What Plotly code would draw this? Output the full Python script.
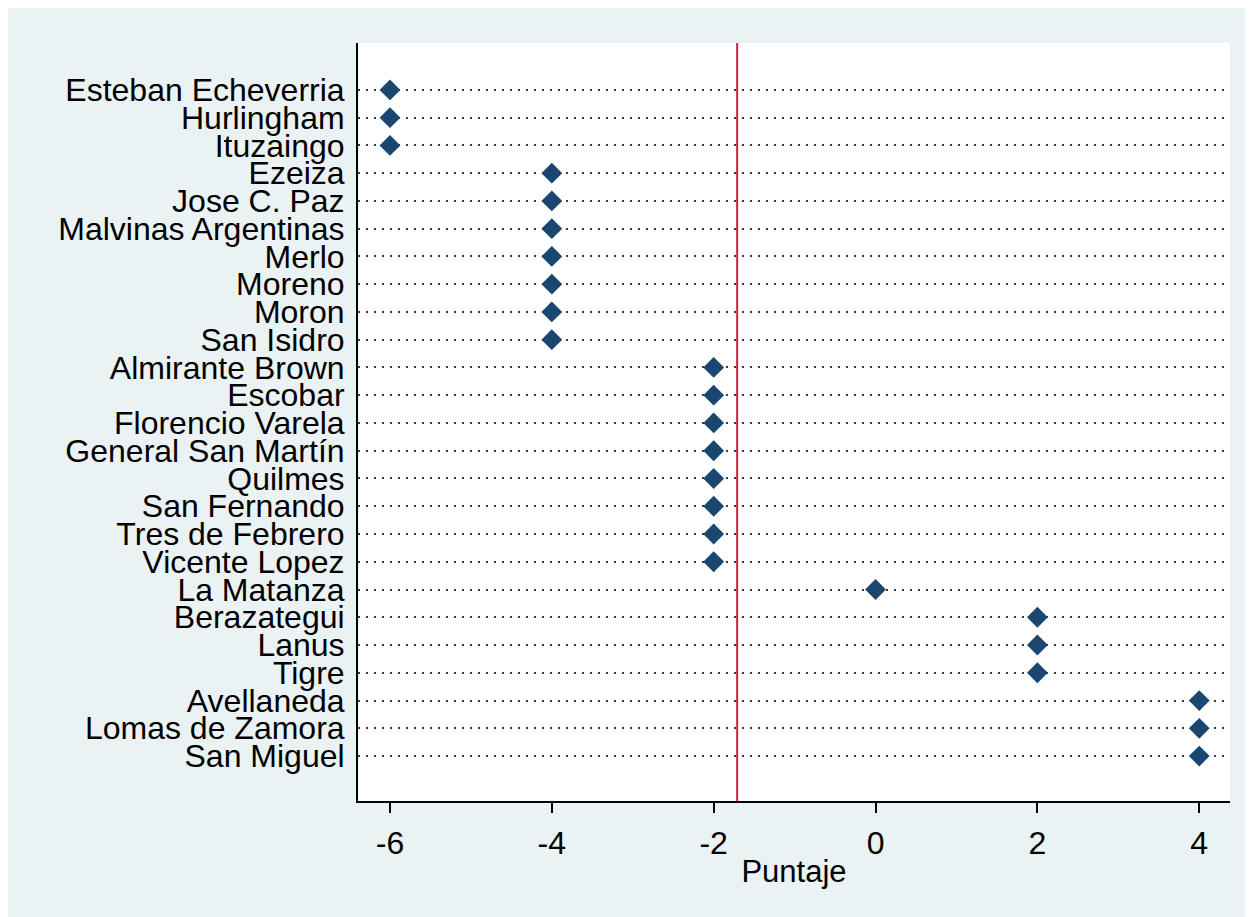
import plotly.graph_objects as go

municipios = [
    "Esteban Echeverria", "Hurlingham", "Ituzaingo", "Ezeiza", "Jose C. Paz",
    "Malvinas Argentinas", "Merlo", "Moreno", "Moron", "San Isidro",
    "Almirante Brown", "Escobar", "Florencio Varela", "General San Martín",
    "Quilmes", "San Fernando", "Tres de Febrero", "Vicente Lopez",
    "La Matanza", "Berazategui", "Lanus", "Tigre",
    "Avellaneda", "Lomas de Zamora", "San Miguel",
]
puntaje = [-6, -6, -6, -4, -4, -4, -4, -4, -4, -4,
           -2, -2, -2, -2, -2, -2, -2, -2,
           0, 2, 2, 2, 4, 4, 4]
linea_ref = -1.71
x_ticks = [-6, -4, -2, 0, 2, 4]

pos = list(range(len(municipios)))

BG = "rgb(234,242,243)"
FONT = "Arial, Liberation Sans, sans-serif"

fig = go.Figure()
fig.add_trace(go.Scatter(
    x=puntaje, y=pos, mode="markers",
    marker=dict(symbol="diamond", size=16, color="#1a476f",
                line=dict(width=0)),
    showlegend=False, hoverinfo="x+text", text=municipios,
))

fig.add_shape(type="line", xref="x", yref="paper",
              x0=linea_ref, x1=linea_ref, y0=0, y1=1,
              line=dict(color="rgb(212,30,72)", width=2), layer="above")

fig.update_layout(
    width=1245, height=909,
    paper_bgcolor=BG, plot_bgcolor="white",
    margin=dict(l=350, r=23, t=35, b=116),
    font=dict(family=FONT, color="black"),
    xaxis=dict(
        range=[-6.395, 4.38], tickvals=x_ticks,
        ticktext=[str(v) for v in x_ticks],
        showgrid=False, zeroline=False,
        showline=True, linecolor="black", linewidth=2,
        ticks="outside", ticklen=10, tickwidth=2, tickcolor="black",
        tickfont=dict(size=32, family=FONT, color="black"),
        ticklabelstandoff=3,
        title=dict(text="Puntaje", font=dict(size=31, family=FONT, color="black"),
                   standoff=0),
    ),
    yaxis=dict(
        range=[25.62, -1.69], tickvals=pos, ticktext=municipios,
        showgrid=True, gridcolor="#3a3a3a", gridwidth=2, griddash="2px,6px",
        zeroline=False, showline=True, linecolor="black", linewidth=2,
        ticks="", ticklabelstandoff=5,
        tickfont=dict(size=32, family=FONT, color="black"),
    ),
)

fig.write_html("out.html")
